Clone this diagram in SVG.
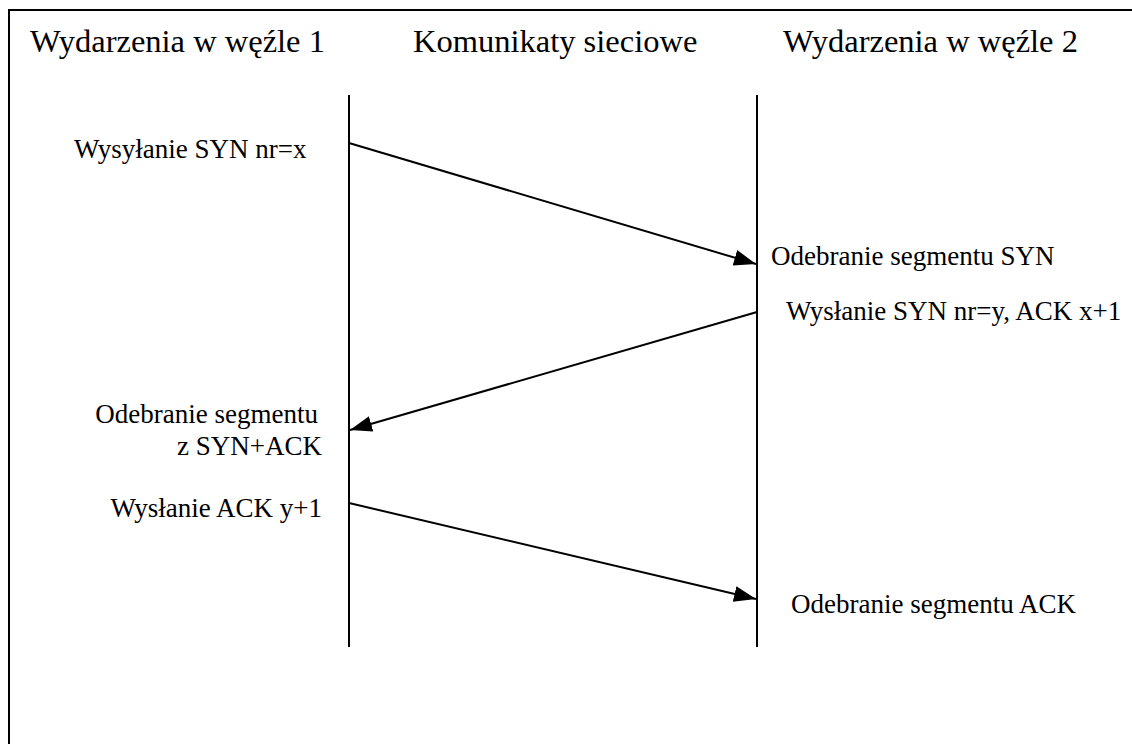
<svg xmlns="http://www.w3.org/2000/svg" width="1132" height="744" viewBox="0 0 1132 744">
<style>
.h{font-family:"Liberation Serif","Times New Roman",serif;font-size:32.5px;fill:#000}
.t{font-family:"Liberation Serif","Times New Roman",serif;font-size:27px;fill:#000}
.ln{stroke:#000;stroke-width:2;fill:none}
.ar{stroke:#000;stroke-width:2;fill:none;marker-end:url(#ah)}
</style>
<defs>
<marker id="ah" markerWidth="24" markerHeight="18" refX="22" refY="8" orient="auto" markerUnits="userSpaceOnUse">
<path d="M0,0 L22,8 L0,16 Z" fill="#000"/>
</marker>
</defs>
<rect width="1132" height="744" fill="#fff"/>
<g id="frame">
<path class="ln" d="M9,744 V10 H1132"/>
</g>
<g id="headers">
<text class="h" x="30" y="52">Wydarzenia w węźle 1</text>
<text class="h" x="413" y="52">Komunikaty sieciowe</text>
<text class="h" x="783" y="52">Wydarzenia w węźle 2</text>
</g>
<g id="lifeline1"><line class="ln" x1="349" y1="95" x2="349" y2="647"/></g>
<g id="lifeline2"><line class="ln" x1="757" y1="95" x2="757" y2="647"/></g>
<g id="connectors">
<line class="ar" x1="349" y1="143" x2="756" y2="264"/>
<line class="ar" x1="757" y1="312" x2="350" y2="430"/>
<line class="ar" x1="349" y1="503" x2="756" y2="599"/>
</g>
<g id="ev1"><text class="t" x="74" y="158">Wysyłanie SYN nr=x</text></g>
<g id="ev2"><text class="t" x="771" y="265">Odebranie segmentu SYN</text></g>
<g id="ev3"><text class="t" x="786" y="320">Wysłanie SYN nr=y, ACK x+1</text></g>
<g id="ev4">
<text class="t" x="318" y="423" text-anchor="end">Odebranie segmentu</text>
<text class="t" x="322" y="455" text-anchor="end">z SYN+ACK</text>
</g>
<g id="ev5"><text class="t" x="322" y="517" text-anchor="end">Wysłanie ACK y+1</text></g>
<g id="ev6"><text class="t" x="791" y="613">Odebranie segmentu ACK</text></g>
</svg>
